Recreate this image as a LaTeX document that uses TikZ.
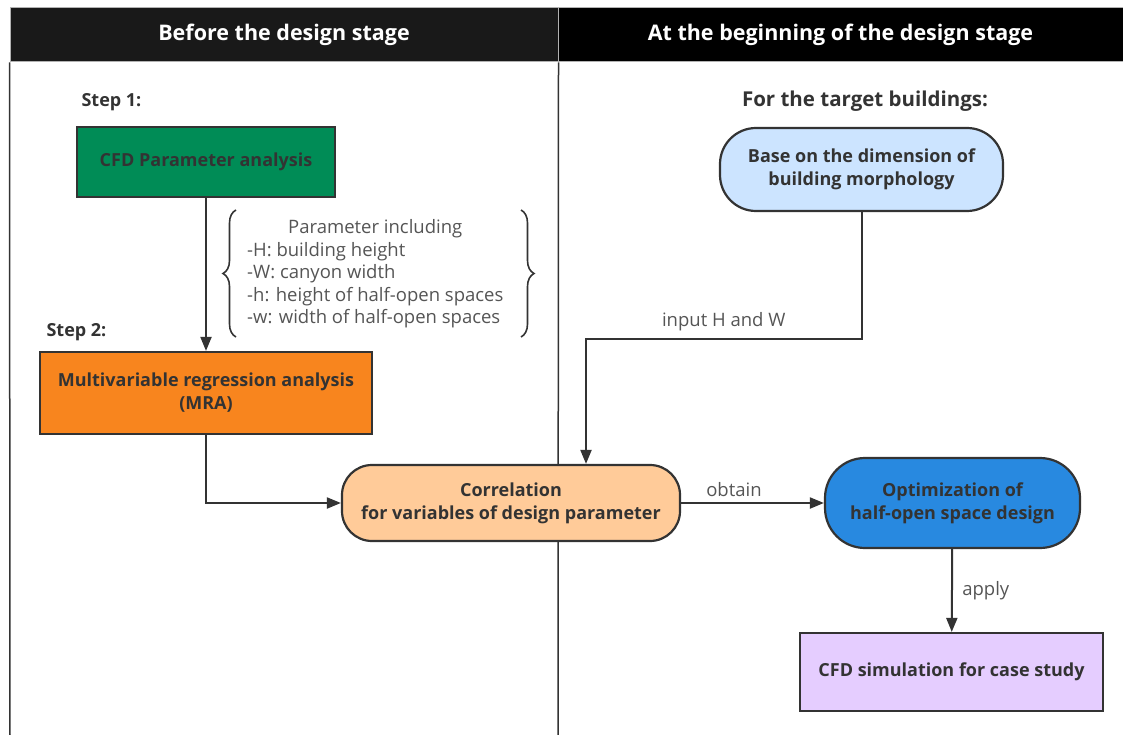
\documentclass[tikz,border=0pt]{standalone}
\usepackage{fontspec}
\setmainfont{Open Sans}
\usetikzlibrary{arrows.meta,positioning,decorations.pathreplacing,calc}
\usepackage{xcolor}
\definecolor{boxgreen}{RGB}{0,140,86}
\definecolor{boxorange}{RGB}{248,133,30}
\definecolor{boxpeach}{RGB}{255,203,153}
\definecolor{boxsky}{RGB}{204,228,255}
\definecolor{boxblue}{RGB}{40,137,224}
\definecolor{boxlilac}{RGB}{229,205,255}
\definecolor{inkgray}{RGB}{51,51,51}
\definecolor{notegray}{RGB}{85,85,85}
\newcommand{\flowbox}[4]{%
  \node[draw=inkgray, line width=2.2pt, fill=#2, text=inkgray,
        font=\bfseries\fontsize{18}{23}\selectfont, align=center,
        minimum width=#3, inner sep=2pt, #4] (#1) }

\begin{document}
\begin{tikzpicture}[x=1pt, y=-1pt,
  flow/.style={line width=2pt, draw=inkgray, -{Triangle[length=14pt,width=11pt]}},
  headbar/.style={draw=gray!60, line width=1pt, text=white, minimum height=54pt,
                  font=\bfseries\fontsize{21.5}{24}\selectfont, inner sep=0pt},
  steplabel/.style={text=inkgray, font=\bfseries\fontsize{18}{20}\selectfont},
  edgelabel/.style={text=notegray, font=\fontsize{18.5}{20}\selectfont}]

\useasboundingbox (0,0) rectangle (1123,735);

% stage headers
\node[headbar, fill=black!90, minimum width=548pt] (leftHead) at (284,35) {Before the design stage};
\node[headbar, fill=black, minimum width=565pt] (rightHead) at (840.5,35) {At the beginning of the design stage};
\draw[inkgray, line width=1.5pt] (leftHead.south west) -- (10,735);
\draw[inkgray, line width=1.5pt] (leftHead.south east) -- (558,735);

% left stage
\node[steplabel, anchor=west] (stepOne) at (78,102) {Step 1:};
\flowbox{CFD}{boxgreen}{258pt}{minimum height=70pt, at={(206,162)}}
  {CFD Parameter analysis};

\node[steplabel, anchor=west] (stepTwo) at (43,332) {Step 2:};
\flowbox{MRA}{boxorange}{332pt}{minimum height=82pt, at={(206,393)}}
  {Multivariable regression analysis\\(MRA)};

\node[anchor=north west, inner sep=0pt, text=notegray,
      font=\fontsize{18.5}{22.5}\selectfont] (params) at (247,218)
  {\begin{tabular}{@{}l@{}}
   \multicolumn{1}{c}{Parameter including}\\
   -H: building height\\
   -W: canyon width\\
   -h: height of half-open spaces\\
   -w: width of half-open spaces
   \end{tabular}};
\draw[inkgray, line width=1.6pt, decorate, decoration={brace, amplitude=13pt}]
  (236,337) -- (236,210);
\draw[inkgray, line width=1.6pt, decorate, decoration={brace, amplitude=13pt}]
  (521,210) -- (521,337);

\flowbox{Corr}{boxpeach}{338pt}{minimum height=76pt, rounded corners=30pt, at={(511,503)}}
  {Correlation\\for variables of design parameter};

% right stage
\node[steplabel, font=\bfseries\fontsize{20.5}{22}\selectfont] (target) at (865,101) {For the target buildings:};
\flowbox{Base}{boxsky}{283pt}{minimum height=83pt, rounded corners=36pt, at={(861.5,169.5)}}
  {Base on the dimension of\\building morphology};
\flowbox{Opt}{boxblue}{255pt}{minimum height=90pt, rounded corners=40pt, at={(952.5,503)}}
  {Optimization of\\half-open space design};
\flowbox{Sim}{boxlilac}{303pt}{minimum height=78pt, at={(951.5,672)}}
  {CFD simulation for case study};

\coordinate (bend) at (586,339);

\draw[flow] (CFD) -- (MRA);
\draw[flow] (MRA.south) |- (Corr.west);
\draw[flow] (Base.south) |- node[edgelabel, pos=0.75, above=4pt]{input H and W} (bend) -- (bend |- Corr.north);
\draw[flow] (Corr) -- node[edgelabel, pos=0.37, above=2pt]{obtain} (Opt);
\draw[flow] (Opt) -- node[edgelabel, right=6pt]{apply} (Sim);

\end{tikzpicture}
\end{document}
